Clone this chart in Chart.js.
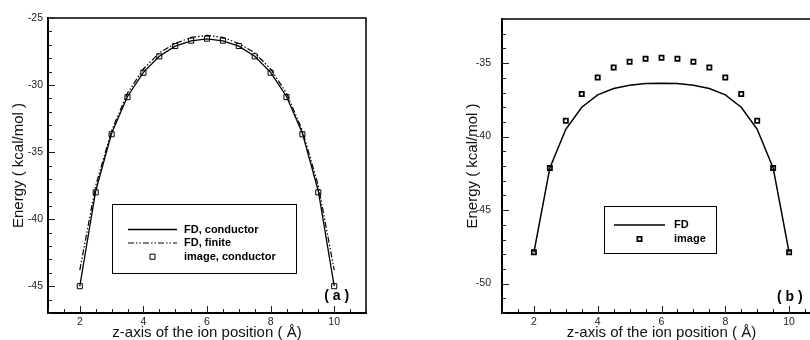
<!DOCTYPE html>
<html>
<head>
<meta charset="utf-8">
<script src="https://cdn.jsdelivr.net/npm/chart.js@4.4.0/dist/chart.umd.min.js"></script>
<style>
html, body { margin: 0; padding: 0; background: #fff; overflow: hidden; width: 810px; height: 340px; }
#wrapA { position: absolute; left: 0; top: 0; width: 405px; height: 340px; }
#wrapB { position: absolute; left: 405px; top: 0; width: 430px; height: 340px; }
</style>
</head>
<body>
<div id="wrapA"><canvas id="chartA" width="405" height="340"></canvas></div>
<div id="wrapB"><canvas id="chartB" width="430" height="340"></canvas></div>
<script>
// ion position along z (Å)
const zPos = [2, 2.5, 3, 3.5, 4, 4.5, 5, 5.5, 6, 6.5, 7, 7.5, 8, 8.5, 9, 9.5, 10];

// panel (a)
const fdConductorA = [-45.0, -37.9, -33.6, -30.85, -29.05, -27.85, -27.1, -26.7, -26.55, -26.7, -27.1, -27.85, -29.05, -30.85, -33.6, -37.9, -45.0];
const fdFiniteA    = [-43.8, -37.5, -33.4, -30.6, -28.8, -27.6, -26.9, -26.45, -26.3, -26.45, -26.9, -27.6, -28.8, -30.6, -33.4, -37.5, -43.8];
const imageCondA   = [-45.0, -38.0, -33.67, -30.9, -29.08, -27.86, -27.09, -26.69, -26.54, -26.69, -27.09, -27.86, -29.08, -30.9, -33.67, -38.0, -45.0];

// panel (b)
const fdB    = [-47.87, -42.13, -39.5, -38.0, -37.16, -36.73, -36.5, -36.39, -36.37, -36.39, -36.5, -36.73, -37.16, -38.0, -39.5, -42.13, -47.87];
const imageB = [-47.87, -42.13, -38.92, -37.1, -35.98, -35.3, -34.91, -34.7, -34.64, -34.7, -34.91, -35.3, -35.98, -37.1, -38.92, -42.13, -47.87];

// tick labels
const xTickValues = [2, 4, 6, 8, 10];
const yTickValuesA = [-45, -40, -35, -30, -25];
const yTickValuesB = [-50, -45, -40, -35];

const FONT = "'Liberation Sans', Arial, Helvetica, sans-serif";
const X_TITLE = "z-axis of the ion position ( Å)";
const Y_TITLE = "Energy ( kcal/mol )";

function pts(ys) {
    return zPos.map((x, i) => ({ x: x, y: ys[i] }));
}

// box frame + inward ticks (Tecplot look)
const frameTicks = {
    id: "frameTicks",
    afterDraw(chart) {
        const ctx = chart.ctx, a = chart.chartArea;
        const xs = chart.scales.x, ys = chart.scales.y;
        ctx.save();
        ctx.strokeStyle = "#000";
        ctx.lineWidth = 1.5;
        ctx.beginPath();
        ctx.moveTo(a.left, a.top);
        ctx.lineTo(a.right, a.top);
        ctx.lineTo(a.right, a.bottom);
        ctx.stroke();

        ctx.lineWidth = 1;
        ctx.strokeStyle = "#222";
        ctx.beginPath();
        for (let v = ys.min; v <= ys.max + 1e-9; v += 1) {
            const p = Math.round(ys.getPixelForValue(v)) + 0.5;
            const len = (Math.round(v) % 5 === 0) ? 7 : 4;
            ctx.moveTo(a.left, p);
            ctx.lineTo(a.left + len, p);
        }
        for (let v = xs.min; v <= xs.max + 1e-9; v += 0.5) {
            const p = Math.round(xs.getPixelForValue(v)) + 0.5;
            const len = (Math.abs(v % 2) < 1e-9) ? 7 : 4;
            ctx.moveTo(p, a.bottom);
            ctx.lineTo(p, a.bottom - len);
        }
        ctx.stroke();
        ctx.restore();
    }
};

// framed legend inside the plot
const boxLegend = {
    id: "boxLegend",
    afterDatasetsDraw(chart, args, o) {
        const ctx = chart.ctx;
        ctx.save();
        ctx.fillStyle = "#fff";
        ctx.fillRect(o.box[0], o.box[1], o.box[2], o.box[3]);
        ctx.strokeStyle = "#000";
        ctx.lineWidth = 1;
        ctx.strokeRect(o.box[0] + 0.5, o.box[1] + 0.5, o.box[2], o.box[3]);
        ctx.font = "bold 11px " + FONT;
        ctx.textBaseline = "middle";
        chart.data.datasets.forEach((ds, i) => {
            const y = o.rows[i];
            if (ds.showLine !== false) {
                ctx.lineWidth = ds.borderWidth;
                ctx.setLineDash(ds.borderDash || []);
                ctx.beginPath();
                ctx.moveTo(o.sample[0], y);
                ctx.lineTo(o.sample[1], y);
                ctx.stroke();
                ctx.setLineDash([]);
            } else {
                const cx = (o.sample[0] + o.sample[1]) / 2;
                const s = ds.pointRadius * Math.SQRT1_2;
                ctx.lineWidth = ds.pointBorderWidth;
                ctx.fillStyle = "#fff";
                ctx.beginPath();
                ctx.rect(cx - s, y - s, 2 * s, 2 * s);
                ctx.fill();
                ctx.stroke();
            }
            ctx.fillStyle = "#000";
            ctx.fillText(ds.label, o.textX, y);
        });
        ctx.restore();
    }
};

// "( a )" / "( b )" tag
const panelLabel = {
    id: "panelLabel",
    afterDatasetsDraw(chart, args, o) {
        const ctx = chart.ctx;
        ctx.save();
        ctx.font = "bold 14px " + FONT;
        ctx.fillStyle = "#000";
        ctx.textAlign = "center";
        ctx.textBaseline = "alphabetic";
        ctx.fillText(o.text, chart.scales.x.getPixelForValue(o.x), chart.scales.y.getPixelForValue(o.y));
        ctx.restore();
    }
};

function axisX() {
    return {
        type: "linear", min: 1, max: 11,
        grid: { display: false, drawTicks: false },
        border: { display: true, width: 2, color: "#000" },
        afterBuildTicks: s => { s.ticks = xTickValues.map(v => ({ value: v })); },
        afterFit: s => { s.height = 27; },
        ticks: { color: "#222", font: { family: FONT, size: 10.5 }, padding: 3, maxRotation: 0, autoSkip: false },
        title: { display: true, text: X_TITLE, color: "#111", font: { family: FONT, size: 15 }, padding: { top: 0, bottom: -2 } }
    };
}

function axisY(min, max, tickVals, width, tickPad, titlePad) {
    return {
        type: "linear", min: min, max: max,
        grid: { display: false, drawTicks: false },
        border: { display: true, width: 2, color: "#000" },
        afterBuildTicks: s => { s.ticks = tickVals.map(v => ({ value: v })); },
        afterFit: s => { s.width = width; },
        ticks: { color: "#222", font: { family: FONT, size: 10.5 }, padding: tickPad, autoSkip: false },
        title: { display: true, text: Y_TITLE, color: "#111", font: { family: FONT, size: 15 }, padding: { top: titlePad, bottom: 0 } }
    };
}

// Panel (a)
const chartA = new Chart(document.getElementById("chartA").getContext("2d"), {
    type: "line",
    data: {
        datasets: [
            { label: "FD, conductor", data: pts(fdConductorA), borderColor: "#000", borderWidth: 1.3, pointRadius: 0, fill: false, tension: 0 },
            { label: "FD, finite", data: pts(fdFiniteA), borderColor: "#000", borderWidth: 1.2, borderDash: [6, 2, 1.5, 2, 1.5, 2], pointRadius: 0, fill: false, tension: 0 },
            { label: "image, conductor", data: pts(imageCondA), showLine: false, pointStyle: "rect", pointRadius: 3.6, pointBorderWidth: 1, pointBorderColor: "#000", pointBackgroundColor: "#fff" }
        ]
    },
    options: {
        responsive: false,
        animation: false,
        layout: { padding: { left: 0, right: 39, top: 18, bottom: 0 } },
        scales: { x: axisX(), y: axisY(-47, -25, yTickValuesA, 48, 5, 9.5) },
        plugins: {
            legend: { display: false },
            tooltip: { enabled: false },
            boxLegend: { box: [112, 204, 184, 69], sample: [128, 177], textX: 184, rows: [229.5, 243, 256.7] },
            panelLabel: { text: "( a )", x: 10.08, y: -46.0 }
        }
    },
    plugins: [frameTicks, boxLegend, panelLabel]
});

// Panel (b)
const chartB = new Chart(document.getElementById("chartB").getContext("2d"), {
    type: "line",
    data: {
        datasets: [
            { label: "FD", data: pts(fdB), borderColor: "#000", borderWidth: 1.5, pointRadius: 0, fill: false, tension: 0 },
            { label: "image", data: pts(imageB), showLine: false, pointStyle: "rect", pointRadius: 3, pointBorderWidth: 1.7, pointBorderColor: "#000", pointBackgroundColor: "#fff" }
        ]
    },
    options: {
        responsive: false,
        animation: false,
        layout: { padding: { left: 0, right: 14, top: 19, bottom: 0 } },
        scales: { x: axisX(), y: axisY(-52, -32, yTickValuesB, 97, 11, 59) },
        plugins: {
            legend: { display: false },
            tooltip: { enabled: false },
            boxLegend: { box: [199, 206, 112, 47], sample: [209, 260], textX: 269, rows: [225, 239] },
            panelLabel: { text: "( b )", x: 10.02, y: -51.17 }
        }
    },
    plugins: [frameTicks, boxLegend, panelLabel]
});
</script>
</body>
</html>
